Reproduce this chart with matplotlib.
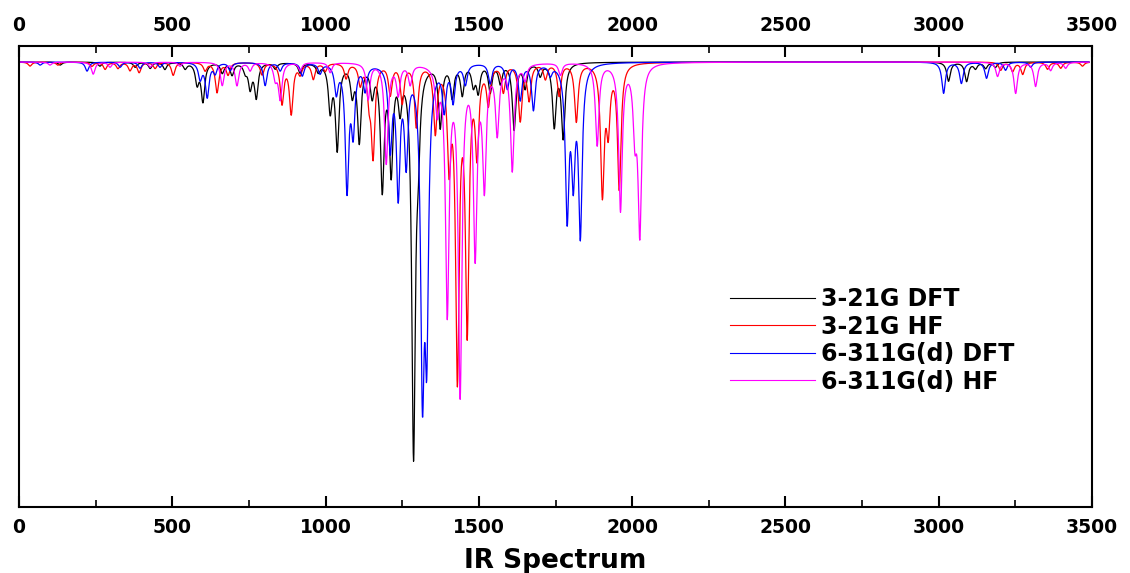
import numpy as np
import matplotlib.pyplot as plt
from matplotlib.ticker import MultipleLocator

plt.rcParams['font.family'] = ['DejaVu Sans']
plt.rcParams['font.weight'] = 'bold'

# Peak positions (cm-1) and intensities (arb. units).
dft321_pos = [134, 264, 379, 428, 476, 542, 581, 600, 663, 695, 738, 754, 774, 836,
              917, 976, 1015, 1038, 1087, 1110, 1152, 1185, 1214, 1243, 1287, 1302,
              1374, 1413, 1446, 1482, 1498, 1537, 1570, 1615, 1651, 1700, 1746, 1775,
              3032, 3091, 3120, 3153, 3185]
dft321_int = [3, 4, 5, 6, 7, 6, 20, 38, 10, 12, 8, 24, 34, 6,
              10, 8, 45, 84, 28, 76, 28, 122, 104, 38, 385, 60,
              62, 32, 30, 20, 27, 28, 19, 66, 24, 12, 62, 74,
              19, 19, 6, 6, 5]

hf321_pos = [36, 127, 238, 281, 323, 362, 392, 444, 503, 607, 646, 682, 793, 858,
             888, 917, 960, 999, 1067, 1113, 1142, 1155, 1211, 1250, 1296, 1358,
             1403, 1430, 1462, 1494, 1531, 1580, 1635, 1664, 1717, 1762, 1818,
             1903, 1922, 1958, 3202, 3241, 3274, 3355, 3398, 3469]
hf321_int = [4, 3, 4, 7, 6, 8, 10, 6, 13, 8, 30, 12, 12, 40,
             50, 10, 16, 8, 15, 20, 30, 90, 30, 38, 62, 66,
             92, 305, 258, 83, 37, 27, 56, 35, 15, 32, 58,
             128, 60, 124, 8, 9, 12, 7, 6, 4]

dft6311_pos = [69, 222, 330, 395, 460, 591, 614, 640, 689, 803, 852, 924, 982, 1035,
               1070, 1090, 1129, 1211, 1237, 1263, 1316, 1330, 1387, 1416, 1456,
               1537, 1593, 1635, 1678, 1733, 1788, 1808, 1831,
               3016, 3074, 3156, 3218, 3300]
dft6311_int = [3, 9, 5, 6, 5, 16, 34, 10, 8, 23, 8, 13, 10, 28,
               124, 64, 25, 80, 125, 92, 300, 255, 43, 36, 20,
               20, 25, 36, 46, 10, 148, 103, 166,
               31, 21, 16, 8, 5]

hf6311_pos = [101, 242, 297, 428, 525, 663, 711, 754, 836, 852, 917, 1015, 1139,
              1198, 1237, 1276, 1364, 1397, 1439, 1488, 1518, 1560, 1609, 1651,
              1766, 1886, 1962, 2009, 2025, 3192, 3251, 3316, 3365, 3414]
hf6311_int = [3, 12, 5, 5, 4, 23, 23, 8, 15, 36, 8, 10, 36,
              100, 30, 20, 43, 245, 325, 186, 118, 67, 106, 15,
              12, 82, 146, 62, 166, 14, 31, 24, 8, 6]

series_labels = ['3-21G DFT', '3-21G HF', '6-311G(d) DFT', '6-311G(d) HF']
series_colors = ['black', 'red', 'blue', 'magenta']
series_peaks = [(dft321_pos, dft321_int), (hf321_pos, hf321_int),
                (dft6311_pos, dft6311_int), (hf6311_pos, hf6311_int)]

wavenumber = np.arange(0, 3491, 1.0)
hwhm = 7.0


def lorentz_spectrum(pos, inten):
    """Sum of Lorentzian bands, drawn downward from the baseline."""
    spec = np.zeros_like(wavenumber)
    for p, h in zip(pos, inten):
        spec += h * hwhm ** 2 / ((wavenumber - p) ** 2 + hwhm ** 2)
    return -spec


fig = plt.figure(figsize=(11.3, 5.73), dpi=100)
ax = fig.add_axes([19 / 1130, 1 - 507 / 573, (1092 - 19) / 1130, (507 - 46) / 573])

for (pos, inten), label, color in zip(series_peaks, series_labels, series_colors):
    ax.plot(wavenumber, lorentz_spectrum(pos, inten), color=color, lw=0.9, label=label)

ax.set_xlim(0, 3500)
ax.set_ylim(-445, 16)
ax.set_yticks([])

ax.xaxis.set_major_locator(MultipleLocator(500))
ax.xaxis.set_minor_locator(MultipleLocator(250))
ax.tick_params(axis='x', which='major', direction='in', length=8, width=1.5,
               labelsize=13.5, pad=8, top=True, labeltop=True)
ax.tick_params(axis='x', which='minor', direction='in', length=5, width=1.2, top=True)

for spine in ax.spines.values():
    spine.set_linewidth(1.5)

ax.set_xlabel('IR Spectrum', fontsize=19, fontweight='bold', labelpad=8)

leg = ax.legend(loc='upper left', bbox_to_anchor=(730 / 1130, 1 - 287 / 573),
                bbox_transform=fig.transFigure, frameon=False, fontsize=17,
                handlelength=3.6, handletextpad=0.25, labelspacing=0.15,
                borderpad=0, borderaxespad=0)
for line in leg.get_lines():
    line.set_linewidth(0.8)

fig.savefig('out.png', dpi=100)
